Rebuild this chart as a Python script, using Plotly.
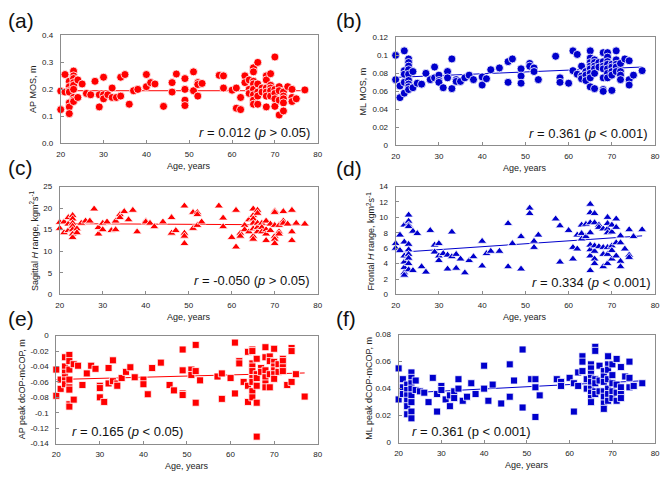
import plotly.graph_objects as go

# ---------------- DATA ----------------
x_ticks = [20, 30, 40, 50, 60, 70, 80]
trend_age = [20, 77]

# (a) AP MOS, m
ap_mos_pts = [
    (20, 0.194), (20, 0.125), (21, 0.255), (21, 0.19),
    (22, 0.23), (22, 0.21), (22, 0.195), (22, 0.19), (22, 0.15), (22, 0.135), (22, 0.11),
    (23, 0.268), (23, 0.25), (23, 0.24), (23, 0.225), (23, 0.215), (23, 0.2), (23, 0.17), (23, 0.16), (23, 0.155),
    (24, 0.235), (24, 0.17), (25, 0.22), (26, 0.185), (27, 0.18), (28, 0.23), (29, 0.18), (29, 0.135),
    (30, 0.245), (30, 0.18), (30, 0.165), (31, 0.18), (32, 0.205), (32, 0.17), (33, 0.17),
    (34, 0.245), (34, 0.175), (35, 0.255), (36, 0.145), (37, 0.195), (38, 0.2),
    (40, 0.255), (40, 0.21), (41, 0.225), (42, 0.22), (44, 0.137), (46, 0.225), (46, 0.19), (47, 0.257),
    (49, 0.24), (49, 0.2), (49, 0.16), (49, 0.14), (51, 0.265), (51, 0.195),
    (52, 0.225), (52, 0.218), (52, 0.175), (53, 0.222), (57, 0.252), (58, 0.25), (58, 0.205), (60, 0.197),
    (61, 0.205), (61, 0.13), (62, 0.17), (62, 0.125), (63, 0.25), (63, 0.225),
    (64, 0.235), (64, 0.2), (64, 0.185),
    (65, 0.28), (65, 0.265), (65, 0.23), (65, 0.22), (65, 0.2), (65, 0.18), (65, 0.16), (65, 0.145),
    (66, 0.3), (66, 0.22), (66, 0.19), (66, 0.175), (66, 0.145), (67, 0.205), (67, 0.19),
    (68, 0.25), (68, 0.235), (68, 0.205), (68, 0.19), (68, 0.175), (68, 0.135),
    (69, 0.258), (69, 0.215), (69, 0.205), (69, 0.195), (69, 0.175),
    (70, 0.32), (70, 0.2), (70, 0.185), (70, 0.165), (70, 0.137),
    (71, 0.21), (71, 0.195), (71, 0.16), (71, 0.105),
    (72, 0.19), (72, 0.175), (72, 0.165), (72, 0.15), (72, 0.12),
    (73, 0.21), (74, 0.2), (74, 0.17), (74, 0.155), (75, 0.165), (77, 0.198),
]
ap_mos_trend = [0.195, 0.195]
ap_mos_ticks = [0.0, 0.1, 0.2, 0.3, 0.4]
ap_mos_ticktext = ["0.0", "0.1", "0.2", "0.3", "0.4"]

# (b) ML MOS, m
ml_mos_pts = [
    (20, 0.1), (20, 0.073), (21, 0.066), (21, 0.053),
    (22, 0.105), (22, 0.083), (22, 0.079), (22, 0.07), (22, 0.058),
    (23, 0.096), (23, 0.092), (23, 0.088), (23, 0.084), (23, 0.079), (23, 0.072), (23, 0.068), (23, 0.065), (23, 0.062),
    (24, 0.082), (24, 0.064), (25, 0.069), (26, 0.068), (27, 0.08), (28, 0.073), (29, 0.087), (29, 0.075),
    (30, 0.078), (30, 0.072), (30, 0.07), (31, 0.064), (32, 0.082), (32, 0.075), (33, 0.096), (33, 0.063),
    (34, 0.073), (34, 0.071), (35, 0.071), (36, 0.075), (37, 0.078), (38, 0.073),
    (40, 0.076), (40, 0.067), (41, 0.074), (42, 0.084), (44, 0.086), (46, 0.093), (46, 0.07), (47, 0.096),
    (49, 0.085), (49, 0.077), (49, 0.069), (51, 0.091), (51, 0.088), (52, 0.086), (52, 0.082), (53, 0.073),
    (57, 0.099), (58, 0.075), (58, 0.07), (60, 0.069), (61, 0.105), (61, 0.083), (62, 0.101), (62, 0.079),
    (63, 0.088), (63, 0.077), (63, 0.074), (64, 0.082), (64, 0.078), (64, 0.072),
    (65, 0.105), (65, 0.097), (65, 0.092), (65, 0.088), (65, 0.085), (65, 0.08), (65, 0.075), (65, 0.065),
    (66, 0.095), (66, 0.092), (66, 0.088), (66, 0.085), (66, 0.08), (66, 0.063), (67, 0.092), (67, 0.087),
    (68, 0.103), (68, 0.093), (68, 0.088), (68, 0.085), (68, 0.075), (68, 0.062), (68, 0.06),
    (69, 0.103), (69, 0.098), (69, 0.093), (69, 0.09), (69, 0.085), (69, 0.08), (69, 0.075),
    (70, 0.09), (70, 0.087), (70, 0.082), (70, 0.078), (70, 0.061),
    (71, 0.105), (71, 0.095), (71, 0.09), (71, 0.087), (71, 0.082),
    (72, 0.091), (72, 0.082), (72, 0.078), (72, 0.073), (73, 0.096),
    (74, 0.094), (74, 0.073), (74, 0.067), (75, 0.078), (77, 0.083),
]
ml_mos_trend = [0.0755, 0.087]
ml_mos_ticks = [0, 0.02, 0.04, 0.06, 0.08, 0.1, 0.12]
ml_mos_ticktext = ["0", "0.02", "0.04", "0.06", "0.08", "0.1", "0.12"]

# (c) Sagittal H range
sag_h_pts = [
    (20, 16.7), (20, 15.3), (21, 16.8), (21, 14.3), (22, 17.8), (22, 16.3), (22, 14.8),
    (23, 18.3), (23, 17.5), (23, 16.5), (23, 15.8), (23, 15), (23, 14), (23, 13.2),
    (24, 15.2), (24, 14.3), (25, 16.5), (26, 17), (27, 17), (28, 19.8), (29, 15.5), (29, 14),
    (30, 16.5), (30, 15), (31, 16.8), (32, 14.8), (33, 17), (33, 15), (34, 18.5), (34, 17.8),
    (35, 19.2), (36, 17.3), (37, 19.5), (38, 14.5), (40, 17), (40, 16.8), (41, 16.5), (42, 15.7),
    (44, 16.8), (46, 17.8), (46, 14.2), (47, 14.8), (49, 20.5), (49, 14.2), (49, 13.5), (49, 11.8),
    (51, 19), (51, 15.3), (52, 19), (52, 18.5), (52, 16), (53, 16.8), (57, 20.5), (58, 17.7), (58, 15.7),
    (60, 13.2), (61, 19.5), (61, 11), (62, 14.2), (62, 13.5), (63, 16), (63, 15), (64, 17.3), (64, 14.5),
    (65, 19.8), (65, 18.3), (65, 17.5), (65, 16.5), (65, 15.2), (65, 13.5), (65, 12.8),
    (66, 19.5), (66, 18.8), (66, 16.5), (66, 15.5), (66, 14.5), (67, 16.5), (67, 15.5), (67, 14.5),
    (68, 17), (68, 15), (68, 14), (68, 12.5), (69, 16.3), (69, 14.8),
    (70, 19.3), (70, 19), (70, 16), (70, 13.5), (70, 12.8), (70, 11.8),
    (71, 16), (71, 14.5), (71, 14), (72, 19.2), (72, 17), (72, 16.5), (73, 16.3),
    (74, 19.5), (74, 14.5), (74, 12.5), (75, 16.5), (77, 16.3),
]
sag_h_trend = [16.4, 16.1]
sag_h_ticks = [0, 5, 10, 15, 20, 25]
sag_h_ticktext = ["0", "5", "10", "15", "20", "25"]

# (d) Frontal H range
fro_h_pts = [
    (20, 6.6), (20, 6.0), (21, 7.7), (21, 5.7),
    (22, 9.0), (22, 6.8), (22, 5.0), (22, 4.2), (22, 3.5), (22, 2.8), (22, 2.5),
    (23, 10.3), (23, 9.5), (23, 9.0), (23, 8.8), (23, 6.5), (23, 5.8), (23, 5.2), (23, 4.7), (23, 4.0), (23, 3.2),
    (24, 8.2), (24, 3.1), (25, 7.9), (26, 3.6), (27, 2.9), (28, 8.3), (29, 6.4), (29, 5.5),
    (30, 6.6), (30, 5.0), (30, 4.4), (31, 5.3), (32, 5.1), (32, 3.3), (33, 8.1), (33, 4.9),
    (34, 5.2), (34, 3.4), (35, 4.6), (36, 2.8), (37, 4.4), (38, 4.9), (40, 6.9), (40, 3.7),
    (41, 5.3), (42, 5.6), (44, 5.6), (46, 9.2), (46, 3.6), (47, 6.6), (49, 7.5), (49, 3.3),
    (51, 11.2), (51, 10.5), (52, 6.9), (52, 6.1), (53, 7.7), (57, 9.8), (58, 8.9), (58, 4.2),
    (60, 8.3), (61, 6.1), (61, 4.6), (62, 7.7), (62, 5.9), (63, 9.0), (63, 7.9), (63, 7.2),
    (64, 9.1), (64, 7.5),
    (65, 11.7), (65, 10.6), (65, 9.3), (65, 8.0), (65, 6.4), (65, 5.8), (65, 5.0), (65, 3.1),
    (66, 10.5), (66, 9.3), (66, 6.3), (66, 5.6), (66, 4.6), (66, 4.0), (67, 9.0), (67, 8.7), (67, 6.2),
    (68, 8.5), (68, 6.1), (68, 5.2), (68, 3.6),
    (69, 10.0), (69, 9.2), (69, 8.5), (69, 8.0), (69, 6.1), (69, 5.2), (69, 4.0),
    (70, 9.0), (70, 8.1), (70, 6.3), (70, 5.7), (70, 4.6), (71, 9.8), (71, 8.7), (71, 6.7), (71, 5.0),
    (72, 7.6), (72, 6.7), (72, 4.3), (72, 3.6), (73, 5.9), (74, 8.4), (74, 5.1), (74, 4.8),
    (75, 7.5), (77, 8.4),
]
fro_h_trend = [5.43, 7.6]
fro_h_ticks = [0, 2, 4, 6, 8, 10, 12, 14]
fro_h_ticktext = ["0", "2", "4", "6", "8", "10", "12", "14"]

# (e) AP peak dcOP-mCOP, m
ap_cop_pts = [
    (20, -0.044), (20, -0.078), (21, -0.057), (21, -0.069),
    (22, -0.028), (22, -0.04), (22, -0.048), (22, -0.054), (22, -0.058), (22, -0.063),
    (23, -0.025), (23, -0.033), (23, -0.044), (23, -0.057), (23, -0.067), (23, -0.07), (23, -0.089), (23, -0.092),
    (24, -0.037), (24, -0.083), (25, -0.039), (26, -0.064), (27, -0.049), (28, -0.039), (29, -0.043),
    (30, -0.065), (30, -0.068), (30, -0.08), (31, -0.086), (32, -0.042), (32, -0.062),
    (33, -0.032), (33, -0.059), (34, -0.062), (34, -0.065), (35, -0.055), (36, -0.047), (37, -0.041),
    (38, -0.054), (40, -0.057), (40, -0.063), (41, -0.076), (42, -0.042), (44, -0.035), (46, -0.064),
    (47, -0.071), (49, -0.018), (49, -0.045), (49, -0.075), (49, -0.077), (51, -0.044), (51, -0.051),
    (52, -0.012), (52, -0.046), (52, -0.087), (53, -0.058), (57, -0.053), (58, -0.049), (58, -0.082),
    (60, -0.055), (61, -0.009), (61, -0.075), (62, -0.033), (62, -0.036), (63, -0.06),
    (64, -0.021), (64, -0.065), (64, -0.086),
    (65, -0.018), (65, -0.02), (65, -0.036), (65, -0.04), (65, -0.046), (65, -0.055), (65, -0.06), (65, -0.072), (65, -0.08),
    (66, -0.03), (66, -0.05), (66, -0.055), (66, -0.065), (66, -0.087), (66, -0.131), (67, -0.042), (67, -0.047),
    (68, -0.015), (68, -0.028), (68, -0.045), (68, -0.054), (68, -0.062), (68, -0.067),
    (69, -0.027), (69, -0.033), (69, -0.05), (69, -0.067),
    (70, -0.017), (70, -0.034), (70, -0.04), (70, -0.045), (70, -0.05), (70, -0.056),
    (71, -0.037), (71, -0.047), (72, -0.03), (72, -0.033), (72, -0.041), (72, -0.046),
    (73, -0.064), (74, -0.016), (74, -0.02), (74, -0.06), (75, -0.05), (77, -0.079),
]
ap_cop_trend = [-0.0569, -0.0484]
ap_cop_ticks = [-0.14, -0.12, -0.1, -0.08, -0.06, -0.04, -0.02, 0]
ap_cop_ticktext = ["-0.14", "-0.12", "-0.1", "-0.08", "-0.06", "-0.04", "-0.02", "0"]

# (f) ML peak dCOP-mCOP, m
ml_cop_pts = [
    (20, 0.055), (20, 0.032), (21, 0.047), (21, 0.041), (21, 0.036),
    (22, 0.043), (22, 0.039), (22, 0.035), (22, 0.031), (22, 0.027), (22, 0.021),
    (23, 0.052), (23, 0.048), (23, 0.044), (23, 0.04), (23, 0.035), (23, 0.03), (23, 0.023), (23, 0.018),
    (24, 0.046), (24, 0.039), (25, 0.038), (26, 0.037), (27, 0.03), (28, 0.048), (29, 0.036), (29, 0.023),
    (30, 0.042), (30, 0.039), (31, 0.032), (32, 0.035), (32, 0.027), (33, 0.038), (33, 0.033),
    (34, 0.047), (34, 0.04), (35, 0.031), (36, 0.034), (37, 0.044), (38, 0.036), (40, 0.057), (40, 0.04),
    (41, 0.031), (42, 0.043), (44, 0.029), (46, 0.058), (46, 0.034), (47, 0.046), (49, 0.069), (49, 0.026),
    (51, 0.047), (52, 0.047), (52, 0.041), (52, 0.019), (53, 0.035), (57, 0.047), (58, 0.045), (58, 0.042),
    (60, 0.048), (61, 0.044), (61, 0.023), (62, 0.052), (62, 0.042), (63, 0.064), (63, 0.06), (63, 0.053),
    (64, 0.047), (64, 0.04),
    (65, 0.058), (65, 0.055), (65, 0.051), (65, 0.048), (65, 0.045), (65, 0.04), (65, 0.037), (65, 0.033), (65, 0.03),
    (66, 0.071), (66, 0.068), (66, 0.047), (66, 0.044), (66, 0.038), (66, 0.036),
    (67, 0.057), (67, 0.046), (67, 0.038),
    (68, 0.053), (68, 0.049), (68, 0.045), (68, 0.038), (68, 0.034), (68, 0.029), (68, 0.025),
    (69, 0.064), (69, 0.058), (69, 0.054), (69, 0.047), (69, 0.04), (69, 0.036), (69, 0.031),
    (70, 0.058), (70, 0.05), (70, 0.044), (70, 0.038), (70, 0.033),
    (71, 0.062), (71, 0.043), (71, 0.037), (71, 0.031), (72, 0.056), (72, 0.041), (72, 0.036), (72, 0.033),
    (73, 0.049), (74, 0.06), (74, 0.048), (74, 0.041), (75, 0.042), (77, 0.044),
]
ml_cop_trend = [0.0365, 0.0458]
ml_cop_ticks = [0, 0.02, 0.04, 0.06, 0.08]
ml_cop_ticktext = ["0", "0.02", "0.04", "0.06", "0.08"]

# ---------------- FIGURE ----------------
W, H = 668, 479
RED = "#FF0000"
BLUE = "#0000CC"
FONT = "Arial, 'Liberation Sans', sans-serif"


def px_x(p):
    return p / W


def px_y(p):
    return 1 - p / H


panels = [
    dict(lbl="(a)", pts=ap_mos_pts, trend=ap_mos_trend, ticks=ap_mos_ticks, tt=ap_mos_ticktext,
         rng=[0, 0.4], color=RED, sym="circle", size=8,
         box=(57.5, 318, 32, 142), ytitle="AP MOS, m", ytx=30,
         stat="<i>r</i> = 0.012 (<i>p</i> &gt; 0.05)", side="right", sx=312, sy=131, lab=(2, 17)),
    dict(lbl="(b)", pts=ml_mos_pts, trend=ml_mos_trend, ticks=ml_mos_ticks, tt=ml_mos_ticktext,
         rng=[0, 0.12], color=BLUE, sym="circle", size=8,
         box=(397, 660, 34, 144), ytitle="ML MOS, m", ytx=364,
         stat="<i>r</i> = 0.361 (<i>p</i> &lt; 0.001)", side="right", sx=655, sy=132, lab=(335, 17)),
    dict(lbl="(c)", pts=sag_h_pts, trend=sag_h_trend, ticks=sag_h_ticks, tt=sag_h_ticktext,
         rng=[0, 25], color=RED, sym="triangle-up", size=8,
         box=(56.5, 318, 186, 296), ytitle="Sagittal <i>H</i> range, kgm<sup>2</sup>s<sup>-1</sup>", ytx=31,
         stat="<i>r</i> = -0.050 (<i>p</i> &gt; 0.05)", side="right", sx=312, sy=282, lab=(2, 167)),
    dict(lbl="(d)", pts=fro_h_pts, trend=fro_h_trend, ticks=fro_h_ticks, tt=fro_h_ticktext,
         rng=[0, 14], color=BLUE, sym="triangle-up", size=8,
         box=(397, 660, 186, 296), ytitle="Frontal <i>H</i> range, kgm<sup>2</sup>s<sup>-1</sup>", ytx=372,
         stat="<i>r</i> = 0.334 (<i>p</i> &lt; 0.001)", side="right", sx=658, sy=284, lab=(335, 168)),
    dict(lbl="(e)", pts=ap_cop_pts, trend=ap_cop_trend, ticks=ap_cop_ticks, tt=ap_cop_ticktext,
         rng=[-0.14, 0], color=RED, sym="square", size=7,
         box=(53, 318, 338, 448), ytitle="AP peak dcOP-mCOP, m", ytx=18,
         stat="<i>r</i> = 0.165 (<i>p</i> &lt; 0.05)", side="left", sx=67, sy=436, lab=(2, 321)),
    dict(lbl="(f)", pts=ml_cop_pts, trend=ml_cop_trend, ticks=ml_cop_ticks, tt=ml_cop_ticktext,
         rng=[0, 0.08], color=BLUE, sym="square", size=7,
         box=(400, 660, 337, 447), ytitle="ML peak dCOP-mCOP, m", ytx=370,
         stat="<i>r</i> = 0.361 (p &lt; 0.001)", side="left", sx=412, sy=436, lab=(335, 321)),
]

fig = go.Figure()
annotations = []
layout = {}

for i, p in enumerate(panels, start=1):
    xa = "x" if i == 1 else f"x{i}"
    ya = "y" if i == 1 else f"y{i}"
    xkey = "xaxis" if i == 1 else f"xaxis{i}"
    ykey = "yaxis" if i == 1 else f"yaxis{i}"
    ages = [a for a, v in p["pts"]]
    vals = [v for a, v in p["pts"]]
    fig.add_trace(go.Scatter(
        x=trend_age, y=p["trend"], mode="lines", xaxis=xa, yaxis=ya,
        line=dict(color=p["color"], width=1), showlegend=False, hoverinfo="skip"))
    fig.add_trace(go.Scatter(
        x=ages, y=vals, mode="markers", xaxis=xa, yaxis=ya, cliponaxis=False,
        marker=dict(symbol=p["sym"], size=p["size"], color=p["color"],
                    line=dict(color="white", width=0.8)),
        showlegend=False))
    x0, x1, y0, y1 = p["box"]
    common = dict(showline=True, mirror=True, linecolor="#8c8c8c", linewidth=1,
                  ticks="inside", ticklen=3, tickcolor="#8c8c8c", showgrid=False,
                  zeroline=False, tickfont=dict(family=FONT, size=8, color="#222"))
    layout[xkey] = dict(domain=[px_x(x0), px_x(x1)], range=[20, 80], tickvals=x_ticks,
                        anchor=ya, ticklabelstandoff=3, **common)
    layout[ykey] = dict(domain=[px_y(y1), px_y(y0)], range=p["rng"], tickvals=p["ticks"],
                        ticktext=p["tt"], anchor=xa, ticklabelstandoff=5, **common)
    # axis titles
    annotations.append(dict(text="Age, years", xref="paper", yref="paper",
                            x=px_x((x0 + x1) / 2), y=px_y(y1 + 23), xanchor="center", yanchor="middle",
                            showarrow=False, font=dict(family=FONT, size=9, color="#222")))
    annotations.append(dict(text=p["ytitle"], xref="paper", yref="paper", textangle=-90,
                            x=px_x(p["ytx"]), y=px_y((y0 + y1) / 2), xanchor="center", yanchor="middle",
                            showarrow=False, font=dict(family=FONT, size=9, color="#222")))
    # stat text
    annotations.append(dict(text=p["stat"], xref="paper", yref="paper",
                            x=px_x(p["sx"]), y=px_y(p["sy"]), xanchor=p["side"], yanchor="middle",
                            showarrow=False, font=dict(family=FONT, size=13, color="#111")))
    # panel label
    annotations.append(dict(text=p["lbl"], xref="paper", yref="paper",
                            x=px_x(p["lab"][0]), y=px_y(p["lab"][1]), xanchor="left", yanchor="middle",
                            showarrow=False, font=dict(family=FONT, size=21, color="#111")))

fig.update_layout(
    width=W, height=H, margin=dict(l=0, r=0, t=0, b=0),
    paper_bgcolor="white", plot_bgcolor="white",
    annotations=annotations, showlegend=False, **layout)

fig.write_html("out.html", config={"displayModeBar": False},
               post_script="document.body.style.margin='0';")
